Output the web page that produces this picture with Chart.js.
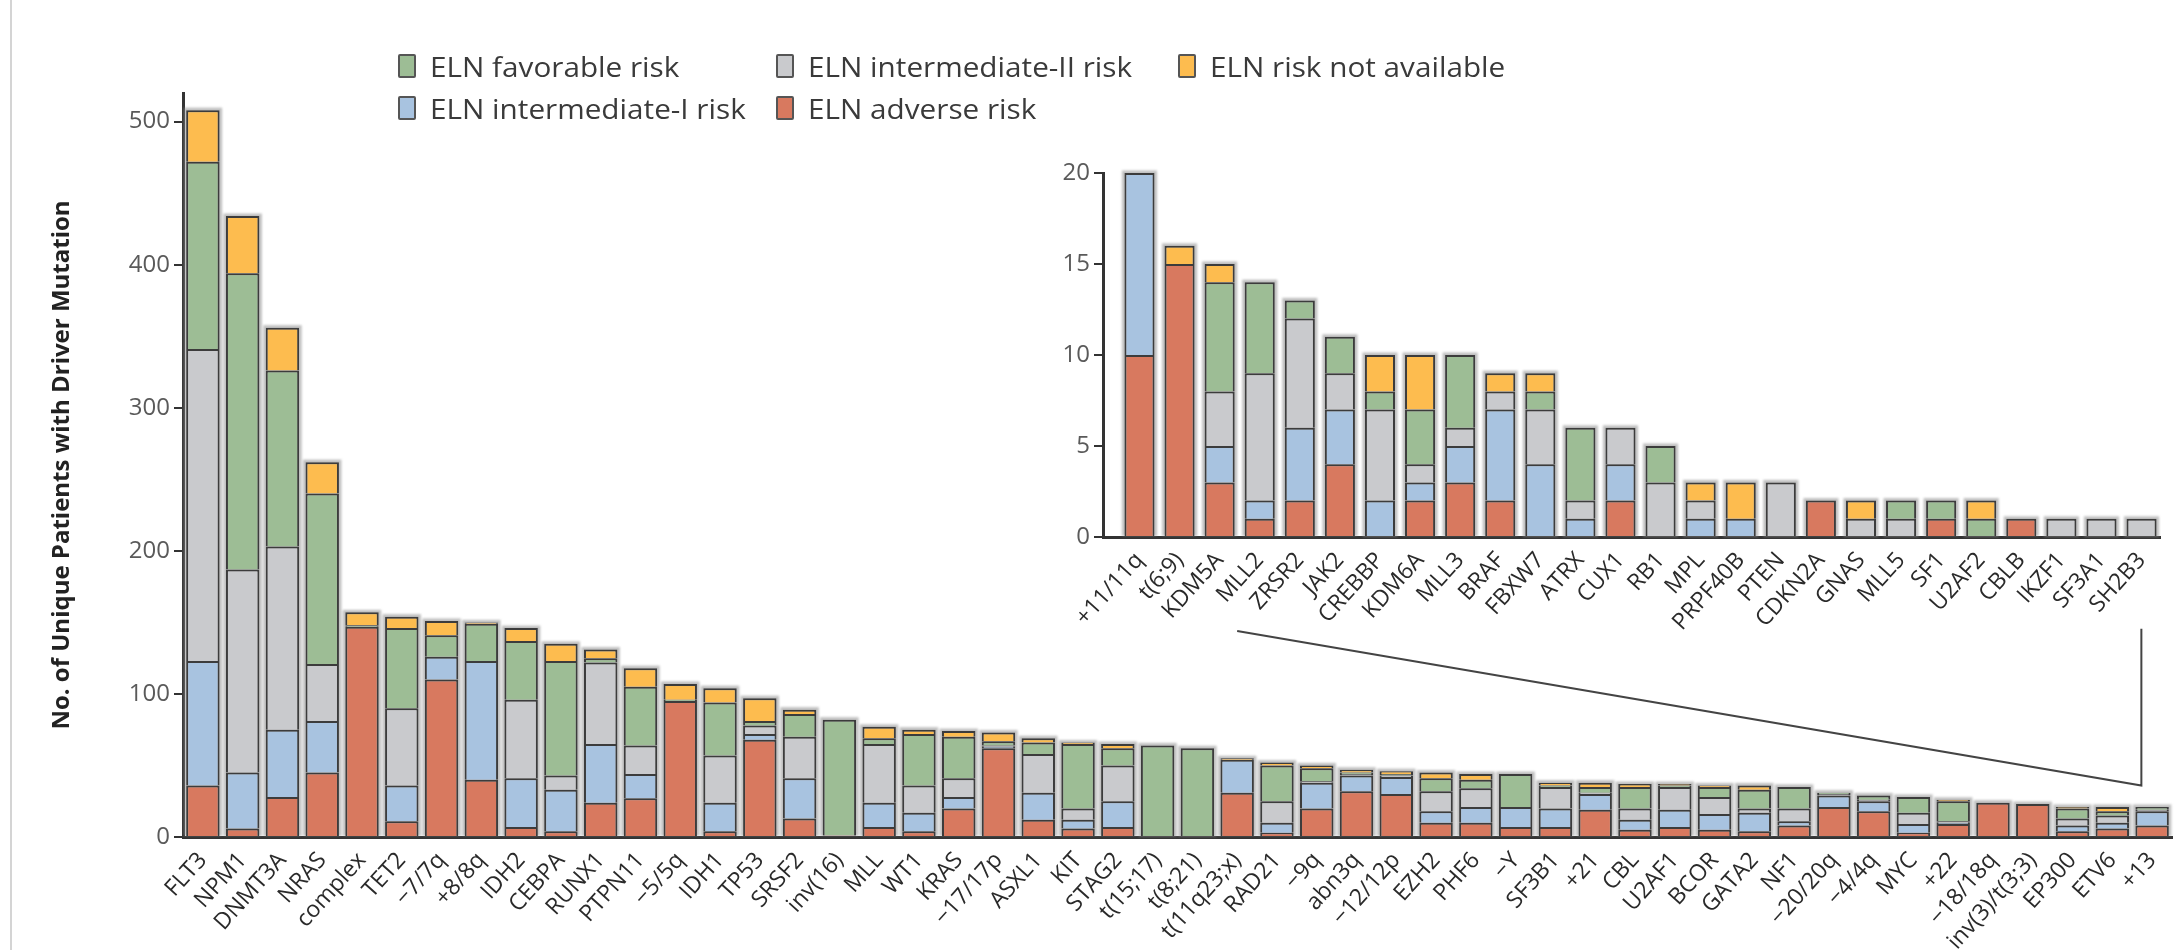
<!DOCTYPE html>
<html>
<head>
<meta charset="utf-8">
<script src="https://cdn.jsdelivr.net/npm/chart.js@4.4.1/dist/chart.umd.min.js"></script>
<style>
    body { margin: 0; background: #fff; }
    #page { position: relative; width: 2179px; height: 950px; overflow: hidden; background: #fff; }
    #frame { position: absolute; left: 10px; top: 0; width: 2px; height: 950px; background: #d4d4d4; }
    #main { position: absolute; left: 0; top: 0; }
    #insetWrap { position: absolute; left: 1000px; top: 140px; width: 1179px; height: 560px; }
    .lg-item { position: absolute; height: 24px; display: flex; align-items: center; white-space: nowrap;
        font-family: "Open Sans", sans-serif; font-size: 27px; color: #3a3a3a; }
    .lg-box { width: 18px; height: 24px; border: 2px solid #555; border-radius: 2px; margin-right: 14px; box-sizing: border-box; flex: none; }
    .lg-text { display: inline-block; transform: scaleX(1.1); transform-origin: left center; }
</style>
</head>
<body>
<div id="page">
    <div id="frame"></div>
    <canvas id="main" width="2179" height="950"></canvas>
    <div id="insetWrap"><canvas id="inset" width="1179" height="560"></canvas></div>
    <div id="legend"></div>
</div>
<script>
// risk groups, stacked from the bottom up
var riskNames = ['ELN adverse risk', 'ELN intermediate-I risk', 'ELN intermediate-II risk', 'ELN favorable risk', 'ELN risk not available'];
var riskColors = ['#d8795f', '#a8c3e0', '#c9cacd', '#9dbd95', '#fdbc4f'];

// main panel
var mainLabels = ['FLT3', 'NPM1', 'DNMT3A', 'NRAS', 'complex', 'TET2', '\u22127/7q', '+8/8q', 'IDH2', 'CEBPA',
    'RUNX1', 'PTPN11', '\u22125/5q', 'IDH1', 'TP53', 'SRSF2', 'inv(16)', 'MLL', 'WT1', 'KRAS',
    '\u221217/17p', 'ASXL1', 'KIT', 'STAG2', 't(15;17)', 't(8;21)', 't(11q23;x)', 'RAD21', '\u22129q', 'abn3q',
    '\u221212/12p', 'EZH2', 'PHF6', '\u2212Y', 'SF3B1', '+21', 'CBL', 'U2AF1', 'BCOR', 'GATA2',
    'NF1', '\u221220/20q', '\u22124/4q', 'MYC', '+22', '\u221218/18q', 'inv(3)/t(3;3)', 'EP300', 'ETV6', '+13'];
var mainAdverse   = [36, 6, 28, 45, 147, 11, 110, 40, 7, 4, 24, 27, 95, 4, 68, 13, 1, 7, 4, 20, 62, 12, 6, 7, 0, 0, 31, 3, 20, 32, 30, 10, 10, 7, 7, 19, 5, 7, 5, 4, 8, 21, 18, 3, 9, 24, 23, 4, 6, 8];
var mainInterI    = [87, 39, 47, 36, 0, 25, 16, 83, 34, 29, 41, 17, 0, 20, 4, 28, 0, 17, 13, 8, 1, 19, 6, 18, 0, 0, 23, 7, 18, 11, 12, 8, 11, 14, 13, 11, 7, 12, 11, 13, 3, 8, 7, 6, 1, 0, 0, 4, 4, 10];
var mainInterII   = [218, 142, 128, 40, 0, 54, 0, 0, 55, 10, 57, 20, 0, 33, 6, 29, 0, 41, 19, 13, 1, 27, 8, 25, 0, 0, 0, 15, 1, 1, 1, 14, 13, 0, 15, 1, 8, 16, 12, 3, 9, 1, 1, 8, 1, 0, 0, 5, 5, 1];
var mainFavorable = [131, 207, 123, 119, 1, 56, 15, 26, 41, 80, 3, 41, 1, 37, 3, 16, 81, 4, 36, 29, 3, 8, 45, 12, 64, 62, 0, 25, 9, 1, 1, 9, 6, 23, 1, 4, 15, 1, 7, 13, 15, 1, 3, 11, 14, 0, 0, 7, 3, 2];
var mainNotAvail  = [36, 40, 30, 22, 9, 8, 10, 1, 9, 12, 6, 13, 11, 10, 16, 3, 0, 8, 3, 4, 6, 3, 1, 3, 0, 0, 1, 2, 2, 2, 2, 4, 4, 0, 2, 3, 2, 1, 1, 3, 0, 0, 0, 0, 1, 0, 0, 1, 3, 0];
var mainYTicks = [0, 100, 200, 300, 400, 500];

// inset panel (rarer drivers)
var insetLabels = ['+11/11q', 't(6;9)', 'KDM5A', 'MLL2', 'ZRSR2', 'JAK2', 'CREBBP', 'KDM6A', 'MLL3', 'BRAF',
    'FBXW7', 'ATRX', 'CUX1', 'RB1', 'MPL', 'PRPF40B', 'PTEN', 'CDKN2A', 'GNAS', 'MLL5',
    'SF1', 'U2AF2', 'CBLB', 'IKZF1', 'SF3A1', 'SH2B3'];
var insetAdverse   = [10, 15, 3, 1, 2, 4, 0, 2, 3, 2, 0, 0, 2, 0, 0, 0, 0, 2, 0, 0, 1, 0, 1, 0, 0, 0];
var insetInterI    = [10, 0, 2, 1, 4, 3, 2, 1, 2, 5, 4, 1, 2, 0, 1, 1, 0, 0, 0, 0, 0, 0, 0, 0, 0, 0];
var insetInterII   = [0, 0, 3, 7, 6, 2, 5, 1, 1, 1, 3, 1, 2, 3, 1, 0, 3, 0, 1, 1, 0, 0, 0, 1, 1, 1];
var insetFavorable = [0, 0, 6, 5, 1, 2, 1, 3, 4, 0, 1, 4, 0, 2, 0, 0, 0, 0, 0, 1, 1, 1, 0, 0, 0, 0];
var insetNotAvail  = [0, 1, 1, 0, 0, 0, 2, 3, 0, 1, 1, 0, 0, 0, 1, 2, 0, 0, 1, 0, 0, 1, 0, 0, 0, 0];
var insetYTicks = [0, 5, 10, 15, 20];

// legend layout: which risk group sits in which slot
var legendOrder = [3, 2, 4, 1, 0];
var legendLeft = [398, 776, 1178, 398, 776];
var legendTop = [54, 54, 54, 96, 96];

// zoom guide from the main panel up to the inset (main-axis units)
var guideX = [26, 48.73, 48.73];
var guideY = [144, 36, 145.5];

var FONT = '"Open Sans", sans-serif';
var AXIS = '#333';

function buildSets(series) {
    return series.map(function (vals, i) {
        return {
            label: riskNames[i],
            data: vals,
            backgroundColor: riskColors[i],
            borderColor: '#3c3c3c',
            borderWidth: 2
        };
    });
}

// legend
var lg = document.getElementById('legend');
legendOrder.forEach(function (k, i) {
    var item = document.createElement('div');
    item.className = 'lg-item';
    item.style.left = legendLeft[i] + 'px';
    item.style.top = legendTop[i] + 'px';
    var box = document.createElement('span');
    box.className = 'lg-box';
    box.style.background = riskColors[k];
    var txt = document.createElement('span');
    txt.className = 'lg-text';
    txt.textContent = riskNames[k];
    item.appendChild(box);
    item.appendChild(txt);
    lg.appendChild(item);
});

// soft grey halo round every stacked column, like the printed figure
var haloPlugin = {
    id: 'halo',
    beforeDatasetsDraw: function (chart) {
        var ctx = chart.ctx;
        var metas = chart.getSortedVisibleDatasetMetas();
        var n = metas[0].data.length;
        ctx.save();
        ctx.filter = 'blur(1.2px)';
        ctx.fillStyle = 'rgba(140,140,140,0.55)';
        for (var i = 0; i < n; i++) {
            var top = Infinity, base = 0, x = 0, w = 0;
            metas.forEach(function (m) {
                var el = m.data[i];
                if (!el) return;
                top = Math.min(top, el.y);
                base = Math.max(base, el.base);
                x = el.x; w = el.width;
            });
            ctx.fillRect(x - w / 2 - 2.5, top - 2.5, w + 5, base - top + 2.5);
        }
        ctx.restore();
    }
};

var guidePlugin = {
    id: 'zoomGuide',
    afterDraw: function (chart) {
        var xs = chart.scales.x, ys = chart.scales.y, ctx = chart.ctx;
        ctx.save();
        ctx.strokeStyle = '#444';
        ctx.lineWidth = 2;
        ctx.beginPath();
        ctx.moveTo(xs.getPixelForValue(guideX[0]), ys.getPixelForValue(guideY[0]));
        ctx.lineTo(xs.getPixelForValue(guideX[1]), ys.getPixelForValue(guideY[1]));
        ctx.lineTo(xs.getPixelForValue(guideX[2]), ys.getPixelForValue(guideY[2]));
        ctx.stroke();
        ctx.restore();
    }
};

Chart.defaults.font.family = FONT;

new Chart(document.getElementById('main').getContext('2d'), {
    type: 'bar',
    data: {
        labels: mainLabels,
        datasets: buildSets([mainAdverse, mainInterI, mainInterII, mainFavorable, mainNotAvail])
    },
    options: {
        responsive: false,
        animation: false,
        layout: { padding: { top: 93, right: 7, left: 0, bottom: 0 } },
        datasets: { bar: { categoryPercentage: 0.84, barPercentage: 1 } },
        plugins: { legend: { display: false }, tooltip: { enabled: false } },
        scales: {
            x: {
                stacked: true,
                grid: { display: false },
                border: { display: true, color: AXIS, width: 3 },
                ticks: { autoSkip: false, minRotation: 48, maxRotation: 48, padding: 2, color: '#2a2a2a', font: { size: 23 } },
                afterFit: function (s) { s.height = 113; }
            },
            y: {
                stacked: true,
                min: 0,
                max: 520,
                afterBuildTicks: function (s) { s.ticks = mainYTicks.map(function (v) { return { value: v }; }); },
                grid: { drawOnChartArea: false, drawTicks: true, tickLength: 9, color: AXIS, lineWidth: 2 },
                border: { display: true, color: AXIS, width: 3 },
                ticks: { padding: 4, color: '#5a5a5a', font: { size: 24 } },
                title: {
                    display: true,
                    text: 'No. of Unique Patients with Driver Mutation',
                    color: '#222',
                    font: { size: 24, weight: 'bold' },
                    padding: { top: 48, bottom: 0 }
                },
                afterFit: function (s) { s.width = 183; }
            }
        }
    },
    plugins: [haloPlugin, guidePlugin]
});

new Chart(document.getElementById('inset').getContext('2d'), {
    type: 'bar',
    data: {
        labels: insetLabels.map(function (n, i) { return i; }),
        datasets: buildSets([insetAdverse, insetInterI, insetInterII, insetFavorable, insetNotAvail])
    },
    options: {
        responsive: false,
        animation: false,
        layout: { padding: { top: 33, right: 19, left: 0, bottom: 0 } },
        datasets: { bar: { categoryPercentage: 0.75, barPercentage: 1 } },
        plugins: { legend: { display: false }, tooltip: { enabled: false } },
        scales: {
            x: {
                type: 'linear',
                offset: false,
                stacked: true,
                min: -0.91,
                max: 25.46,
                afterBuildTicks: function (s) { s.ticks = insetLabels.map(function (n, i) { return { value: i }; }); },
                grid: { display: false, offset: false },
                border: { display: true, color: AXIS, width: 3 },
                ticks: {
                    autoSkip: false, minRotation: 48, maxRotation: 48, padding: 2, color: '#2a2a2a', font: { size: 23 },
                    callback: function (v) { return insetLabels[v]; }
                },
                afterFit: function (s) { s.height = 163; }
            },
            y: {
                stacked: true,
                min: 0,
                max: 20,
                afterBuildTicks: function (s) { s.ticks = insetYTicks.map(function (v) { return { value: v }; }); },
                grid: { drawOnChartArea: false, drawTicks: true, tickLength: 9, color: AXIS, lineWidth: 2 },
                border: { display: true, color: AXIS, width: 3 },
                ticks: { padding: 4, color: '#5a5a5a', font: { size: 24 } },
                afterFit: function (s) { s.width = 103; }
            }
        }
    },
    plugins: [haloPlugin]
});
</script>
</body>
</html>
